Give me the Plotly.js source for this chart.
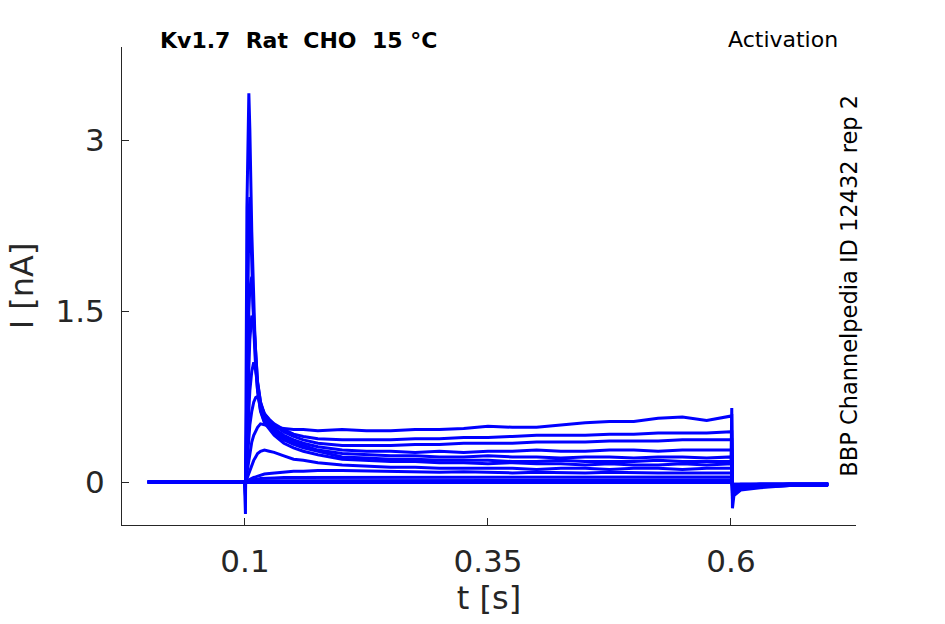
<!DOCTYPE html>
<html>
<head>
<meta charset="utf-8">
<script src="https://cdn.plot.ly/plotly-3.0.1.min.js"></script>
<style>html,body{margin:0;padding:0;background:#fff;}#chart{width:945px;height:624px;}</style>
</head>
<body>
<div id="chart"></div>
<script>
// time samples [s]
var T = [0, 0.05, 0.0995,
  0.1005, 0.102, 0.104, 0.105, 0.107, 0.109, 0.111, 0.113, 0.116, 0.12,
  0.125, 0.13, 0.14, 0.15, 0.16, 0.175,
  0.2, 0.225, 0.25, 0.275, 0.3, 0.325, 0.35, 0.375, 0.4, 0.425, 0.45, 0.475, 0.5, 0.525, 0.55, 0.575, 0.6,
  0.6008, 0.6015, 0.603, 0.61, 0.63, 0.66, 0.7];

// current traces [nA]
var I1 = [0, 0, 0,
  -0.28, 2.4, 3.41, 3.1, 2.2, 1.5, 1.05, 0.8, 0.62, 0.52,
  0.46, 0.41, 0.34, 0.3, 0.27, 0.24,
  0.2, 0.19, 0.18, 0.18, 0.17, 0.17, 0.16, 0.17, 0.16, 0.16, 0.15, 0.16, 0.15, 0.15, 0.16, 0.15, 0.16,
  0.65, -0.23, -0.12, -0.07, -0.05, -0.03, -0.03];
var I2 = [0, 0, 0,
  -0.12, 1.2, 2.3, 2.5, 1.9, 1.35, 1.0, 0.8, 0.63, 0.53,
  0.48, 0.43, 0.37, 0.33, 0.3, 0.27,
  0.22, 0.21, 0.2, 0.2, 0.19, 0.19, 0.19, 0.18, 0.18, 0.19, 0.18, 0.18, 0.18, 0.19, 0.18, 0.18, 0.18,
  0.18, -0.15, -0.1, -0.06, -0.04, -0.03, -0.02];
var I3 = [0, 0, 0,
  -0.05, 0.8, 1.5, 1.7, 1.8, 1.45, 1.1, 0.85, 0.66, 0.55,
  0.5, 0.45, 0.39, 0.35, 0.32, 0.28,
  0.25, 0.24, 0.23, 0.23, 0.22, 0.22, 0.23, 0.22, 0.22, 0.21, 0.22, 0.22, 0.21, 0.22, 0.22, 0.21, 0.22,
  0.22, -0.12, -0.08, -0.05, -0.04, -0.03, -0.02];
var I4 = [0, 0, 0,
  -0.03, 0.5, 1.0, 1.25, 1.46, 1.4, 1.1, 0.88, 0.7, 0.58,
  0.52, 0.47, 0.41, 0.37, 0.34, 0.31,
  0.28, 0.27, 0.27, 0.26, 0.27, 0.26, 0.27, 0.27, 0.28, 0.27, 0.27, 0.28, 0.28, 0.27, 0.28, 0.28, 0.28,
  0.28, -0.1, -0.07, -0.05, -0.03, -0.02, -0.02];
var I5 = [0, 0, 0,
  0, 0.3, 0.65, 0.8, 0.97, 1.05, 0.98, 0.85, 0.7, 0.6,
  0.54, 0.5, 0.44, 0.4, 0.37, 0.34,
  0.32, 0.32, 0.32, 0.33, 0.33, 0.34, 0.34, 0.34, 0.35, 0.35, 0.35, 0.36, 0.36, 0.36, 0.37, 0.37, 0.37,
  0.37, -0.08, -0.06, -0.04, -0.03, -0.02, -0.02];
var I6 = [0, 0, 0,
  0, 0.15, 0.4, 0.5, 0.62, 0.7, 0.74, 0.75, 0.68, 0.6,
  0.55, 0.51, 0.46, 0.42, 0.4, 0.38,
  0.37, 0.37, 0.37, 0.38, 0.38, 0.39, 0.39, 0.4, 0.41, 0.41, 0.41, 0.42, 0.42, 0.43, 0.43, 0.43, 0.44,
  0.44, -0.07, -0.05, -0.04, -0.03, -0.02, -0.02];
var I7 = [0, 0, 0,
  0, 0.08, 0.2, 0.27, 0.35, 0.41, 0.45, 0.48, 0.51, 0.5,
  0.49, 0.48, 0.47, 0.46, 0.46, 0.45,
  0.46, 0.45, 0.45, 0.46, 0.46, 0.47, 0.49, 0.48, 0.48, 0.5, 0.52, 0.53, 0.53, 0.56, 0.57, 0.54, 0.58,
  0.58, -0.06, -0.05, -0.04, -0.03, -0.02, -0.02];
var I8 = [0, 0, 0,
  0, 0.03, 0.08, 0.11, 0.15, 0.19, 0.22, 0.25, 0.27, 0.28,
  0.27, 0.26, 0.23, 0.2, 0.19, 0.17,
  0.15, 0.14, 0.13, 0.13, 0.12, 0.12, 0.12, 0.12, 0.11, 0.12, 0.12, 0.11, 0.12, 0.12, 0.11, 0.12, 0.12,
  0.12, -0.05, -0.04, -0.03, -0.02, -0.02, -0.02];
var I9 = [0, 0, 0,
  0, 0.01, 0.02, 0.025, 0.03, 0.04, 0.045, 0.05, 0.06, 0.07,
  0.075, 0.08, 0.09, 0.095, 0.095, 0.1,
  0.1, 0.095, 0.09, 0.09, 0.085, 0.09, 0.085, 0.08, 0.085, 0.08, 0.08, 0.085, 0.08, 0.08, 0.08, 0.08, 0.08,
  0.08, -0.04, -0.03, -0.03, -0.02, -0.02, -0.02];
var I10 = [0, 0, 0,
  0, 0.005, 0.01, 0.01, 0.015, 0.02, 0.02, 0.025, 0.03, 0.03,
  0.035, 0.035, 0.04, 0.04, 0.045, 0.045,
  0.045, 0.045, 0.045, 0.04, 0.045, 0.045, 0.04, 0.045, 0.045, 0.04, 0.045, 0.045, 0.04, 0.045, 0.04, 0.045, 0.045,
  0.045, -0.03, -0.03, -0.02, -0.02, -0.02, -0.02];
var I11 = [0, 0, 0,
  0, 0.005, 0.01, 0.01, 0.01, 0.015, 0.015, 0.015, 0.015, 0.015,
  0.015, 0.015, 0.015, 0.015, 0.015, 0.015,
  0.015, 0.015, 0.015, 0.015, 0.015, 0.015, 0.015, 0.015, 0.015, 0.015, 0.015, 0.015, 0.015, 0.015, 0.015, 0.015, 0.015,
  0.015, -0.03, -0.02, -0.02, -0.02, -0.02, -0.02];
var I12 = [0.005, 0.005, 0.005,
  0.005, 0.005, 0.005, 0.005, 0.005, 0.005, 0.005, 0.005, 0.005, 0.005,
  0.005, 0.005, 0.005, 0.005, 0.005, 0.005,
  0.005, 0.005, 0.005, 0.005, 0.005, 0.005, 0.005, 0.005, 0.005, 0.005, 0.005, 0.005, 0.005, 0.005, 0.005, 0.005, 0.005,
  0.005, -0.02, -0.02, -0.02, -0.02, -0.02, -0.02];
var I13 = [-0.005, -0.005, -0.005,
  -0.005, -0.005, -0.005, -0.005, -0.005, -0.005, -0.005, -0.005, -0.005, -0.005,
  -0.005, -0.005, -0.005, -0.005, -0.005, -0.005,
  -0.005, -0.005, -0.005, -0.005, -0.005, -0.005, -0.005, -0.005, -0.005, -0.005, -0.005, -0.005, -0.005, -0.005, -0.005, -0.005, -0.005,
  -0.005, -0.03, -0.03, -0.025, -0.02, -0.02, -0.02];

var series = [I1, I2, I3, I4, I5, I6, I7, I8, I9, I10, I11, I12, I13];

var xTicks = [0.1, 0.35, 0.6];
var xTickText = ['0.1', '0.35', '0.6'];
var yTicks = [0, 1.5, 3];
var yTickText = ['0', '1.5', '3'];

var titleText = 'Kv1.7\u00a0\u00a0Rat\u00a0\u00a0CHO\u00a0\u00a015\u00a0°C';
var protocolText = 'Activation';
var sideText = 'BBP Channelpedia ID 12432 rep 2';

var traces = series.map(function (s) {
  return {x: T, y: s, type: 'scatter', mode: 'lines',
          line: {color: '#0000ff', width: 3}, hoverinfo: 'skip', showlegend: false};
});

var axisColor = '#262626';
var F = 'DejaVu Sans, sans-serif';

var layout = {
  width: 945, height: 624,
  margin: {l: 122, r: 89, t: 47, b: 99},
  paper_bgcolor: '#ffffff', plot_bgcolor: '#ffffff',
  showlegend: false,
  xaxis: {
    range: [-0.0265, 0.7286], showgrid: false, zeroline: false,
    showline: true, linecolor: axisColor, linewidth: 1,
    ticks: 'inside', ticklen: 7, tickcolor: axisColor,
    tickvals: xTicks, ticktext: xTickText, ticklabelstandoff: 9,
    tickfont: {family: F, size: 31, color: axisColor},
    title: {text: 't [s]', font: {family: F, size: 32, color: axisColor}, standoff: 8}
  },
  yaxis: {
    range: [-0.377, 3.816], showgrid: false, zeroline: false,
    showline: true, linecolor: axisColor, linewidth: 1,
    ticks: 'inside', ticklen: 7, tickcolor: axisColor,
    tickvals: yTicks, ticktext: yTickText, ticklabelstandoff: 10,
    tickfont: {family: F, size: 31, color: axisColor},
    title: {text: 'I [nA]', font: {family: F, size: 32, color: axisColor}, standoff: 12}
  },
  annotations: [
    {text: '<b>' + titleText + '</b>', xref: 'paper', yref: 'paper', x: 0.049, y: 1.0146,
     xanchor: 'left', yanchor: 'middle', showarrow: false, font: {family: F, size: 22, color: '#000'}},
    {text: protocolText, xref: 'paper', yref: 'paper', x: 0.978, y: 1.0167,
     xanchor: 'right', yanchor: 'middle', showarrow: false, font: {family: F, size: 22, color: '#000'}},
    {text: sideText, xref: 'paper', yref: 'paper', x: 0.990, y: 0.5,
     xanchor: 'center', yanchor: 'middle', textangle: -90, showarrow: false,
     font: {family: F, size: 22.5, color: '#000'}}
  ]
};

Plotly.newPlot('chart', traces, layout, {staticPlot: true, displayModeBar: false});
</script>
</body>
</html>
